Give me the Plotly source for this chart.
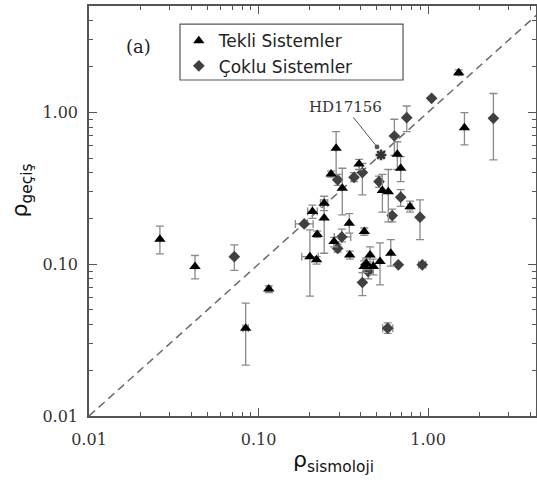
import plotly.graph_objects as go

# ---- Tekli Sistemler (triangles) ----
t_x    = [0.0262, 0.0422, 0.115, 0.084, 0.287, 1.517, 1.64, 0.392, 0.268, 0.312, 0.659, 0.690, 0.538, 0.583, 0.244, 0.208, 0.244, 0.783, 0.343, 0.222, 0.421, 0.279, 0.201, 0.220, 0.345, 0.455, 0.420, 0.476, 0.521, 0.603, 0.433]
t_y    = [0.146, 0.0964, 0.0685, 0.0379, 0.580, 1.82, 0.792, 0.457, 0.393, 0.316, 0.529, 0.428, 0.305, 0.300, 0.252, 0.222, 0.201, 0.239, 0.186, 0.157, 0.164, 0.141, 0.112, 0.107, 0.115, 0.115, 0.0964, 0.0964, 0.104, 0.118, 0.101]
t_ylo  = [0.117, 0.080, 0.065, 0.0216, 0.387, 1.75, 0.61, 0.42, 0.375, 0.211, 0.42, 0.35, 0.22, 0.19, 0.225, 0.200, 0.118, 0.22, 0.16, 0.15, 0.155, 0.130, 0.0615, 0.100, 0.108, 0.103, 0.088, 0.085, 0.073, 0.097, 0.092]
t_yhi  = [0.178, 0.114, 0.072, 0.0553, 0.745, 1.90, 0.994, 0.49, 0.41, 0.428, 0.64, 0.51, 0.39, 0.42, 0.28, 0.245, 0.265, 0.26, 0.215, 0.165, 0.173, 0.150, 0.168, 0.112, 0.122, 0.13, 0.105, 0.108, 0.138, 0.145, 0.110]
t_xlo  = [0.0262, 0.0422, 0.112, 0.081, 0.287, 1.517, 1.64, 0.392, 0.268, 0.312, 0.659, 0.690, 0.538, 0.583, 0.232, 0.195, 0.244, 0.760, 0.343, 0.222, 0.421, 0.279, 0.180, 0.220, 0.345, 0.455, 0.420, 0.476, 0.521, 0.603, 0.433]
t_xhi  = [0.0262, 0.0422, 0.119, 0.087, 0.287, 1.517, 1.64, 0.392, 0.268, 0.312, 0.659, 0.690, 0.538, 0.583, 0.256, 0.222, 0.244, 0.806, 0.343, 0.222, 0.421, 0.279, 0.225, 0.220, 0.345, 0.455, 0.420, 0.476, 0.521, 0.603, 0.433]

# ---- Çoklu Sistemler (diamonds) ----
d_x    = [0.072, 0.749, 1.05, 2.43, 0.633, 0.293, 0.366, 0.410, 0.514, 0.690, 0.615, 0.897, 0.186, 0.310, 0.293, 0.668, 0.925, 0.410, 0.444, 0.578, 0.430]
d_y    = [0.112, 0.922, 1.236, 0.913, 0.698, 0.359, 0.373, 0.401, 0.350, 0.276, 0.209, 0.204, 0.184, 0.151, 0.127, 0.099, 0.099, 0.0757, 0.0894, 0.0379, 0.099]
d_ylo  = [0.091, 0.745, 1.236, 0.486, 0.52, 0.33, 0.35, 0.286, 0.32, 0.24, 0.19, 0.145, 0.184, 0.14, 0.12, 0.099, 0.099, 0.062, 0.08, 0.035, 0.090]
d_yhi  = [0.134, 1.10, 1.236, 1.33, 0.90, 0.39, 0.40, 0.46, 0.38, 0.31, 0.23, 0.265, 0.184, 0.17, 0.135, 0.099, 0.099, 0.088, 0.10, 0.041, 0.108]
d_xlo  = [0.072, 0.749, 1.05, 2.43, 0.633, 0.293, 0.366, 0.410, 0.514, 0.690, 0.615, 0.897, 0.165, 0.280, 0.293, 0.668, 0.880, 0.410, 0.444, 0.540, 0.430]
d_xhi  = [0.072, 0.749, 1.05, 2.43, 0.633, 0.293, 0.366, 0.410, 0.514, 0.690, 0.615, 0.897, 0.210, 0.350, 0.293, 0.668, 0.970, 0.410, 0.444, 0.620, 0.430]

# ---- HD17156 ----
hd_x = [0.528]
hd_y = [0.524]
hd_label = "HD17156"

# ---- axes ----
x_range_log = [-2, 0.637]
y_range_log = [-2, 0.70]
major_vals = [0.01, 0.1, 1.0]
major_text = ["0.01", "0.10", "1.00"]
minor_vals = [m * d for d in [0.01, 0.1, 1.0] for m in range(2, 10)]
diag = [0.01, 5.0]
x_title = "ρ<sub>sismoloji</sub>"
y_title = "ρ<sub>geçiş</sub>"

ERR_COLOR = "#8a8a8a"

def errs(v, lo, hi):
    return dict(type="data", symmetric=False,
                array=[h - a for a, h in zip(v, hi)],
                arrayminus=[a - l for a, l in zip(v, lo)],
                color=ERR_COLOR, thickness=1.3, width=4)

fig = go.Figure()

fig.add_trace(go.Scatter(x=diag, y=diag, mode="lines", showlegend=False,
                         line=dict(color="#6a6a6a", width=1.5, dash="8px,5px"),
                         hoverinfo="skip"))

fig.add_trace(go.Scatter(
    x=d_x, y=d_y, mode="markers", name="Çoklu Sistemler",
    marker=dict(symbol="diamond", size=9, color="#404040"),
    error_y=errs(d_y, d_ylo, d_yhi), error_x=errs(d_x, d_xlo, d_xhi)))

fig.add_trace(go.Scatter(
    x=t_x, y=t_y, mode="markers", name="Tekli Sistemler",
    marker=dict(symbol="triangle-up", size=10, color="#000000"),
    error_y=errs(t_y, t_ylo, t_yhi), error_x=errs(t_x, t_xlo, t_xhi)))

fig.add_trace(go.Scatter(
    x=hd_x, y=hd_y, mode="markers", showlegend=False,
    marker=dict(symbol="asterisk-open", size=9, color="#333333",
                line=dict(width=2.5, color="#333333"))))

axis_common = dict(type="log", showgrid=False, zeroline=False, automargin=False,
                   showline=True, linecolor="#555555", linewidth=1.5,
                   mirror="ticks", ticks="inside", ticklen=8, tickwidth=1.2,
                   tickcolor="#555555", tickvals=major_vals, ticktext=major_text,
                   tickfont=dict(family="DejaVu Serif", size=16, color="#333333"),
                   minor=dict(tickvals=minor_vals, ticks="inside", ticklen=4,
                              tickcolor="#555555", tickwidth=1, showgrid=False))

fig.update_xaxes(range=x_range_log, ticklabelstandoff=8, **axis_common)
fig.update_yaxes(range=y_range_log, ticklabelstandoff=6, **axis_common)

fig.update_layout(
    width=537, height=485,
    margin=dict(l=89, r=1, t=6, b=69),
    paper_bgcolor="white", plot_bgcolor="white",
    legend=dict(x=0.201, y=0.958, xanchor="left", yanchor="top",
                borderwidth=0, bgcolor="rgba(0,0,0,0)",
                traceorder="reversed", tracegroupgap=0,
                font=dict(family="DejaVu Sans", size=17, color="#222222"),
                itemwidth=30),
    shapes=[
        dict(type="rect", xref="paper", yref="paper",
             x0=0.2036, x1=0.7025, y0=0.8195, y1=0.956,
             line=dict(color="#555555", width=1.2), fillcolor="rgba(0,0,0,0)"),
    ],
    annotations=[
        dict(x=0.11, y=0.902, xref="paper", yref="paper", text="(a)", showarrow=False,
             xanchor="center", yanchor="middle",
             font=dict(family="DejaVu Serif", size=18, color="#222222")),
        dict(x=-0.301, y=-0.228, xref="x", yref="y", text=hd_label, showarrow=True,
             ax=-32, ay=-40, arrowhead=6, arrowsize=1.2, arrowwidth=1,
             arrowcolor="#555555", standoff=0,
             font=dict(family="DejaVu Serif", size=15, color="#333333")),
        dict(x=0.546, y=-0.112, xref="paper", yref="paper", text=x_title,
             showarrow=False, xanchor="center", yanchor="middle",
             font=dict(family="DejaVu Sans", size=22, color="#111111")),
        dict(x=-0.150, y=0.55, xref="paper", yref="paper", text=y_title,
             showarrow=False, xanchor="center", yanchor="middle", textangle=-90,
             font=dict(family="DejaVu Sans", size=22, color="#111111")),
    ],
)

fig.write_html("out.html", config={"displayModeBar": False},
               post_script="document.body.style.margin='0';")
